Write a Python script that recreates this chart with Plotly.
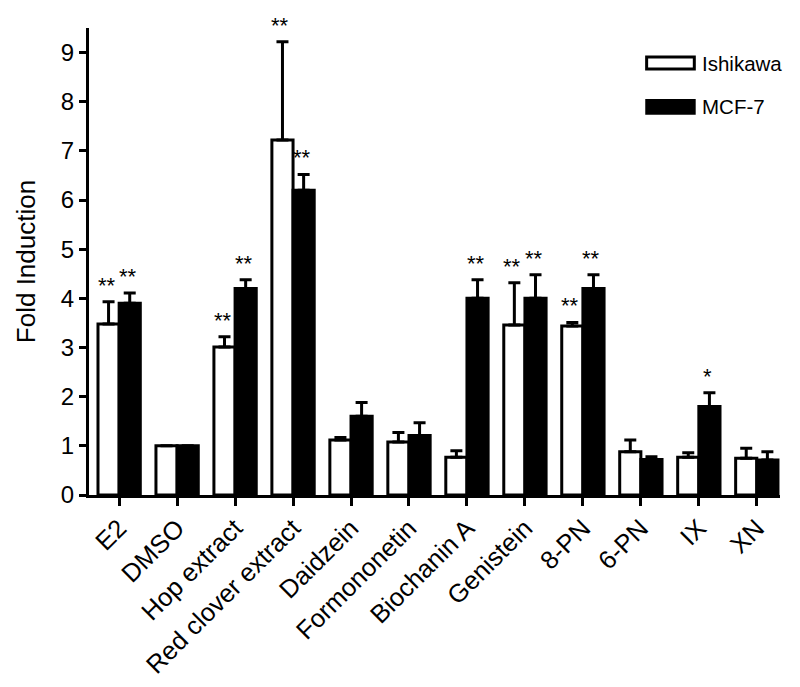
import plotly.graph_objects as go

categories = ["E2", "DMSO", "Hop extract", "Red clover extract", "Daidzein", "Formononetin",
              "Biochanin A", "Genistein", "8-PN", "6-PN", "IX", "XN"]
ishikawa = [3.48, 1.0, 3.01, 7.22, 1.12, 1.08, 0.77, 3.46, 3.44, 0.88, 0.77, 0.75]
ishikawa_err = [0.45, None, 0.21, 2.0, 0.05, 0.19, 0.13, 0.86, 0.07, 0.24, 0.09, 0.2]
mcf7 = [3.9, 1.0, 4.2, 6.2, 1.6, 1.21, 4.0, 4.0, 4.2, 0.72, 1.8, 0.71]
mcf7_err = [0.21, None, 0.18, 0.32, 0.28, 0.26, 0.38, 0.48, 0.28, 0.06, 0.28, 0.17]
ishikawa_sig = ["**", "", "**", "**", "", "", "", "**", "**", "", "", ""]
mcf7_sig = ["**", "", "**", "**", "", "", "**", "**", "**", "", "*", ""]

FONT = "Liberation Sans, Arial, sans-serif"
x = list(range(len(categories)))
BW = 0.365

fig = go.Figure()
fig.add_trace(go.Bar(
    x=x, y=ishikawa, name="Ishikawa", width=BW, offset=-BW,
    marker=dict(color="white", line=dict(color="black", width=3)),
    error_y=dict(type="data", symmetric=False, array=ishikawa_err,
                 arrayminus=[0 if e is not None else None for e in ishikawa_err],
                 color="black", thickness=3, width=6),
))
fig.add_trace(go.Bar(
    x=x, y=mcf7, name="MCF-7", width=BW, offset=0,
    marker=dict(color="black", line=dict(color="black", width=3)),
    error_y=dict(type="data", symmetric=False, array=mcf7_err,
                 arrayminus=[0 if e is not None else None for e in mcf7_err],
                 color="black", thickness=3, width=6),
))

annotations = []
for i in x:
    for vals, errs, sig, off in ((ishikawa, ishikawa_err, ishikawa_sig, -BW / 2),
                                 (mcf7, mcf7_err, mcf7_sig, BW / 2)):
        if sig[i]:
            top = vals[i] + (errs[i] or 0)
            annotations.append(dict(
                x=i + off, y=top, xref="x", yref="y", text=sig[i], showarrow=False,
                yanchor="bottom", xanchor="center", yshift=2, xshift=-2,
                font=dict(family=FONT, size=22, color="black")))

# legend drawn as wide swatches
annotations += [
    dict(x=0.884, y=0.925, xref="paper", yref="paper", text="Ishikawa", showarrow=False,
         xanchor="left", yanchor="middle", font=dict(family=FONT, size=20.5, color="black")),
    dict(x=0.884, y=0.831, xref="paper", yref="paper", text="MCF-7", showarrow=False,
         xanchor="left", yanchor="middle", font=dict(family=FONT, size=20.5, color="black")),
]
shapes = [
    dict(type="rect", xref="paper", yref="paper", x0=0.807, x1=0.876, y0=0.912, y1=0.938,
         fillcolor="white", line=dict(color="black", width=3)),
    dict(type="rect", xref="paper", yref="paper", x0=0.805, x1=0.878, y0=0.814, y1=0.848,
         fillcolor="black", line=dict(color="black", width=0)),
]

# the page body adds an 8px margin, so the figure is sized to fit the 800x687 window
fig.update_layout(
    width=784, height=671,
    margin=dict(l=81, r=12, t=20, b=184),
    paper_bgcolor="white", plot_bgcolor="white",
    barmode="overlay", showlegend=False,
    font=dict(family=FONT, color="black"),
    annotations=annotations, shapes=shapes,
    xaxis=dict(range=[-0.52, 11.4], tickvals=x, ticktext=categories, tickangle=-45,
               automargin=False, ticklabelstandoff=-3,
               showline=True, linecolor="black", linewidth=3, ticks="outside",
               ticklen=8, tickwidth=3, tickcolor="black", showgrid=False, zeroline=False,
               tickfont=dict(family=FONT, size=25.5, color="black")),
    yaxis=dict(range=[0, 9.5], tickvals=list(range(10)), showline=True, linecolor="black",
               automargin=False,
               linewidth=3, ticks="outside", ticklen=7, tickwidth=3, tickcolor="black",
               showgrid=False, zeroline=False,
               tickfont=dict(family=FONT, size=24, color="black"),
               title=dict(text="Fold Induction", font=dict(family=FONT, size=26, color="black"),
                          standoff=18)),
)
fig.write_html("out.html")
